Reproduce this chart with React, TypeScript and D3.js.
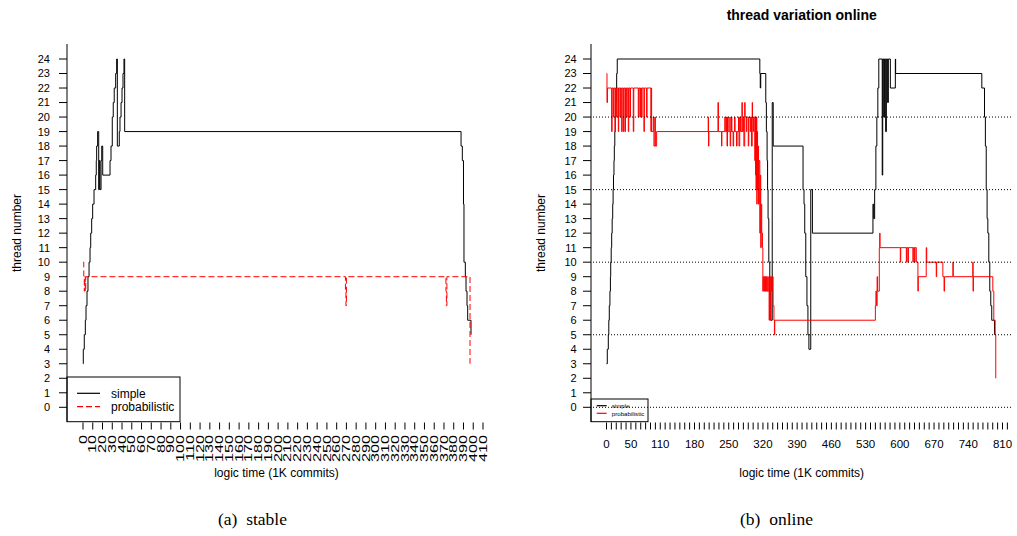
import React from 'react';
import * as d3 from 'd3';

const W = 1017, H = 536;

const yTickValues = [0,1,2,3,4,5,6,7,8,9,10,11,12,13,14,15,16,17,18,19,20,21,22,23,24];
const stableXTicks = [0,10,20,30,40,50,60,70,80,90,100,110,120,130,140,150,160,170,180,190,200,210,220,230,240,250,260,270,280,290,300,310,320,330,340,350,360,370,380,390,400,410];
const onlineXTicks = d3.range(0, 821, 10);
const onlineXLabels = [0,50,110,180,250,320,390,460,530,600,670,740,810];
const onlineGrid = [0,5,10,15,20];

type P = [number, number];

const stableSimple: P[] = [
  [0,3],[0.3,4],[1.3,5],[2.4,6],[3.1,7],[4.1,8],[5.1,9],[6.2,10],[7.2,11],[7.9,12],[8.9,13],[9.9,14],
  [11.3,15],[13,16],[13.6,17],[14,18],[15,19],[16.1,15],[16.7,17],[17.4,15],[18.5,17],[19.2,18],[20.2,16],
  [27.7,17],[28.7,18],[30,20],[31,21],[32,22],[33.5,23],[34.5,24],[35.2,18],[37.2,19],[37.9,20],[39,21],
  [40,22],[41,23],[42,24],[42.7,19],[387.5,18],[388.8,17],[390,14],[390.5,10],[391.9,9],[392.6,8],
  [393.6,7],[394.3,6],[397.7,5]
];

const stableProb: P[] = [
  [0,10],[0.8,9],[1.3,8],[1.8,9],[2.3,8],[2.8,9],[269,8],[269.5,7],[270,9],[372,8],[372.5,7],[373,9],[396.7,3]
];

const onlineSimple: P[] = [
  [0,3],[1.6,4],[3.7,5],[4.7,6],[5.7,7],[7,8],[8,9],[8.6,10],[9.6,11],[10.6,12],[11.6,13],[12.7,14],
  [13.5,15],[14.3,16],[15.3,17],[16,18],[17,19],[18,20],[19,21],[19.8,22],[20.8,23],[22,24],
  [313.6,23],[314.5,22],[315.5,23],[325.8,21],[327,19],[328.5,17],[329.5,15],[330.5,13],[332,10],
  [334,8],[336,6],[339,21],[341,18],[402,15],[404,14],[405.5,12],[407.6,9],[410,7],[412,5],[414,4],
  [417.8,15],[421.2,12],[545,14],[546.5,13],[548.5,15],[551,18],[553,20],[555,22],[557,24],
  [564,16],[565,24],[567,20],[568.5,24],[571,19],[572.5,24],[575,21],[576.5,24],
  [580.6,22],[590.8,24],[591.4,23],[767.7,22],[773.2,20],[775,18],
  [776.7,15],[778.5,13],[780,12],[782,10],[784,8],[786,7],[788,6],[793.6,5]
];

const onlineProb: P[] = [
  [0.3,23],[1,21],[2,22],[10.5,19],[11.5,22],[13.9,20],[14.8,22],[17.4,19],[18.3,22],[20.8,20],
  [21.7,22],[24.2,19],[25,22],[27.6,20],[28.4,22],[31,19],[32,22],[34.4,19],[35.4,22],[37.8,19],
  [38.8,22],[41.2,20],[42.2,22],[44.6,19],[45.5,22],[48,20],[49,22],[54.8,19],[55.8,22],[65,20],
  [66,22],[68.4,20],[69.5,22],[71.8,20],[72.8,22],[76.6,19],[77.5,22],[82,20],[83,22],[90.9,19],
  [91.5,22],[92.3,19],[95.7,20],[97,18],[99,20],[100,18],[102.5,19],
  [208,20],[208.7,18],[209.4,19],[228,21],[229,19],[235.3,18],[236,19],[242,20],[243,19],[245.5,20],
  [246.5,18],[247.5,20],[249,19],[252.3,20],[253,18],[254,19],[255.7,20],[256.5,19],[259,18],
  [260,19],[262,20],[263,19],[266,18],[267,19],[270,20],[271,18],[272.5,20],[274,19],[277,21],
  [277.8,19],[280,20],[281,18],[282.7,21],[283.5,20],[286,19],[287,20],[290,18],[291,20],[294,19],
  [295,20],[296.5,18],[298,21],[298.7,20],[300,19],[301,20],
  [303.4,17],[304,20],[305,16],[305.5,20],[306,15],[306.5,20],[307.5,14],[308,19],[309,15],[310,18],
  [311,14],[312,17],[313.6,12],[314.5,16],[315.5,11],[316.5,14],[317.5,12],[319,11],[319.8,8],
  [320.5,9],[321.8,8],[322.8,9],[324,8],[325,9],[326,8],[327,9],[328.5,8],[330,9],[331,8],[332.6,6],
  [333.5,9],[335,6],[336,9],[337.5,8],[339,9],[340.8,7],[342.5,6],[343.5,5],[344.2,6],
  [550,7],[551,8],[552.5,7],[553.5,9],[554.5,8],[558,11],[558.8,12],[559.5,11],
  [601,10],[601.8,11],[613.3,10],[614.2,11],[616.6,10],[617.5,11],[626.8,10],[627.6,11],[630.2,10],
  [631,11],[633.7,10],[637,8],[637.7,9],[654,11],[655,10],[674.5,9],[675.3,10],[688,9],[690.5,8],
  [691.5,9],[708.5,10],[709.3,9],[749.3,10],[749.8,8],[750.5,9],[790.2,8],[792.2,6],[795,5],[796.2,2]
];

const FONT = '"Liberation Sans", Arial, Helvetica, sans-serif';
const SERIF = '"Liberation Serif", "Times New Roman", serif';

export default function App() {
  const yS = d3.scaleLinear().domain([0, 24]).range([407.3, 59]);
  const xL = d3.scaleLinear().domain([0, 410]).range([83, 483]);
  const xR = d3.scaleLinear().domain([0, 810]).range([606.5, 1002.5]);
  const mk = (xs: d3.ScaleLinear<number, number>) =>
    d3.line<P>().x(d => xs(d[0])).y(d => yS(d[1])).curve(d3.curveStepAfter);
  const lineL = mk(xL);
  const lineR = mk(xR);

  const yAxis = (axisX: number, labelRight: number) => (
    <g>
      <line x1={axisX} x2={axisX} y1={44} y2={421.7} stroke="#000" strokeWidth={1} />
      {yTickValues.map(v => (
        <g key={v}>
          <line x1={axisX - 8} x2={axisX} y1={yS(v)} y2={yS(v)} stroke="#000" strokeWidth={1} />
          <text x={labelRight} y={yS(v)} dy="0.36em" textAnchor="end" fontSize={11} fontFamily={FONT}>{v}</text>
        </g>
      ))}
    </g>
  );

  return (
    <svg width={W} height={H} style={{ position: 'absolute', left: 0, top: 0, background: '#fff' }}>
      <rect width={W} height={H} fill="#fff" />
      {/* Left chart: stable */}
      {yAxis(67, 50)}
      {stableXTicks.map(v => (
        <g key={v}>
          <line x1={xL(v)} x2={xL(v)} y1={422.5} y2={429.5} stroke="#000" strokeWidth={1} />
          <text transform={`translate(${xL(v)},435) rotate(-90) scale(1.62,1)`} textAnchor="end" dy="0.36em"
            fontSize={10} fontFamily={FONT}>{v}</text>
        </g>
      ))}
      <path d={lineL(stableSimple) ?? ''} fill="none" stroke="#000" strokeWidth={1} />
      <path d={lineL(stableProb) ?? ''} fill="none" stroke="#ff0000" strokeWidth={1} strokeDasharray="6,3" />
      <rect x={67} y={377} width={113} height={44.7} fill="none" stroke="#000" strokeWidth={1} />
      <line x1={77} x2={100} y1={393.3} y2={393.3} stroke="#000" strokeWidth={1.2} />
      <line x1={77} x2={100} y1={406.7} y2={406.7} stroke="#ff0000" strokeWidth={1.2} strokeDasharray="6,3" />
      <text x={111} y={393.3} dy="0.36em" fontSize={12} fontFamily={FONT}>simple</text>
      <text x={111} y={406.7} dy="0.36em" fontSize={12} fontFamily={FONT}>probabilistic</text>
      <text x={276.5} y={477} textAnchor="middle" fontSize={12} fontFamily={FONT}>logic time (1K commits)</text>
      <text transform="translate(21,233) rotate(-90)" textAnchor="middle" fontSize={12} fontFamily={FONT}>thread number</text>

      {/* Right chart: online */}
      <text x={801.7} y={20} textAnchor="middle" fontSize={14} fontWeight="bold" fontFamily={FONT}>thread variation online</text>
      {yAxis(591, 576.7)}
      {onlineXTicks.map(v => (
        <line key={v} x1={xR(v)} x2={xR(v)} y1={422.5} y2={429.5} stroke="#000" strokeWidth={1} />
      ))}
      {onlineXLabels.map(v => (
        <text key={v} x={xR(v)} y={447.5} textAnchor="middle" fontSize={11.5} fontFamily={FONT}>{v}</text>
      ))}
      <path d={lineR(onlineSimple) ?? ''} fill="none" stroke="#000" strokeWidth={1} />
      <path d={lineR(onlineProb) ?? ''} fill="none" stroke="#ff0000" strokeWidth={1} />
      <rect x={591} y={399} width={57} height={22.7} fill="none" stroke="#000" strokeWidth={1} />
      <line x1={596.7} x2={606.7} y1={405.7} y2={405.7} stroke="#000" strokeWidth={1.2} />
      <line x1={596.7} x2={606.7} y1={413.3} y2={413.3} stroke="#ff0000" strokeWidth={1.2} />
      <text x={611.7} y={405.7} dy="0.36em" fontSize={6.2} fontFamily={FONT}>simple</text>
      <text x={611.7} y={413.3} dy="0.36em" fontSize={6.2} fontFamily={FONT}>probabilistic</text>
      {onlineGrid.map(v => (
        <line key={v} x1={593} x2={1012} y1={yS(v)} y2={yS(v)} stroke="#000" strokeWidth={1} strokeDasharray="1,2" />
      ))}
      <text x={801.7} y={477} textAnchor="middle" fontSize={12} fontFamily={FONT}>logic time (1K commits)</text>
      <text transform="translate(545,233) rotate(-90)" textAnchor="middle" fontSize={12} fontFamily={FONT}>thread number</text>

      {/* Captions */}
      <text x={218} y={525} fontSize={17.5} fontFamily={SERIF} xmlSpace="preserve">(a)  stable</text>
      <text x={740} y={525} fontSize={17.5} fontFamily={SERIF} xmlSpace="preserve">(b)  online</text>
    </svg>
  );
}
